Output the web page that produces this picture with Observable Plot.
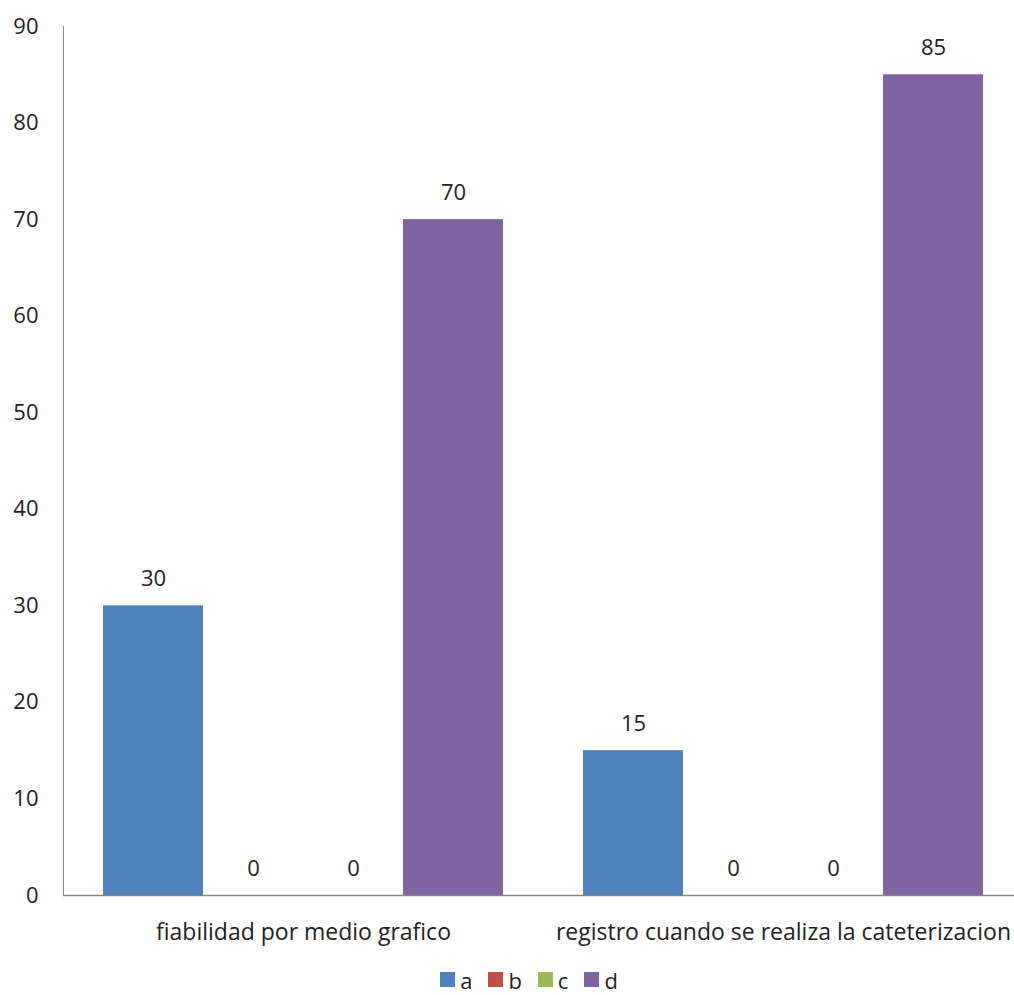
<!DOCTYPE html>
<html>
<head>
<meta charset="utf-8">
<script src="https://cdn.jsdelivr.net/npm/d3@7"></script>
<script src="https://cdn.jsdelivr.net/npm/@observablehq/plot@0.6"></script>
<style>
  body { margin: 0; background: #fff; font-family: "Open Sans", Lato, sans-serif; font-variant-ligatures: none; }
  #legend { display: flex; justify-content: center; gap: 16px; height: 35px; align-items: center; font-size: 22px; color: #222; padding-left: 44px; padding-top: 4px; box-sizing: border-box; }
  #legend span.item { display: inline-flex; align-items: center; gap: 5px; }
  #legend span.sw { width: 15px; height: 15px; display: inline-block; }
  svg text { font-variant-ligatures: none; }
</style>
</head>
<body>
<div id="chart"></div>
<div id="legend"></div>
<script>
// Survey questions (groups) and answer options (series)
const groups = ["fiabilidad por medio grafico", "registro cuando se realiza la cateterizacion"];
const series = ["a", "b", "c", "d"];
const colors = ["#4F81BD", "#C0504D", "#9BBB59", "#8064A2"];
// Percent of responses per option, one list per group
const valuesGroup1 = [30, 0, 0, 70];
const valuesGroup2 = [15, 0, 0, 85];
const yTicks = [0, 10, 20, 30, 40, 50, 60, 70, 80, 90];

const rows = [];
[valuesGroup1, valuesGroup2].forEach((vals, gi) => {
  series.forEach((s, si) => rows.push({group: groups[gi], option: s, value: vals[si]}));
});

const axisColor = "#868686";
const fontSize = 22;

const chart = Plot.plot({
  width: 1014,
  height: 960,
  marginTop: 26,
  marginBottom: 65,
  marginLeft: 63,
  marginRight: 0,
  style: {fontFamily: "'Open Sans', Lato, sans-serif", fontSize: fontSize + "px", color: "#222", background: "#fff", overflow: "hidden"},
  fx: {domain: groups, range: [63, 1023], padding: 0, label: null, axis: null},
  x: {domain: series, paddingInner: 0, paddingOuter: 0.38, axis: null},
  y: {domain: [0, 90], ticks: yTicks, tickSize: 0, tickPadding: 25, label: null, line: true},
  color: {domain: series, range: colors},
  marks: [
    Plot.barY(rows, {fx: "group", x: "option", y: "value", fill: "option"}),
    Plot.ruleY([0], {stroke: axisColor, strokeWidth: 1.3}),
    Plot.text(rows, {fx: "group", x: "option", y: "value", text: (d) => String(d.value), dy: -27, fontSize: fontSize, fill: "#222"}),
    Plot.axisFx({anchor: "bottom", tickSize: 0, tickPadding: 28, fontSize: 23, label: null})
  ]
});
document.getElementById("chart").appendChild(chart);

// Grey axis lines
d3.select(chart).selectAll("line").attr("stroke", axisColor);

// Legend below the chart
const legend = d3.select("#legend");
series.forEach((s, i) => {
  const item = legend.append("span").attr("class", "item");
  item.append("span").attr("class", "sw").style("background", colors[i]);
  item.append("span").text(s);
});
</script>
</body>
</html>
